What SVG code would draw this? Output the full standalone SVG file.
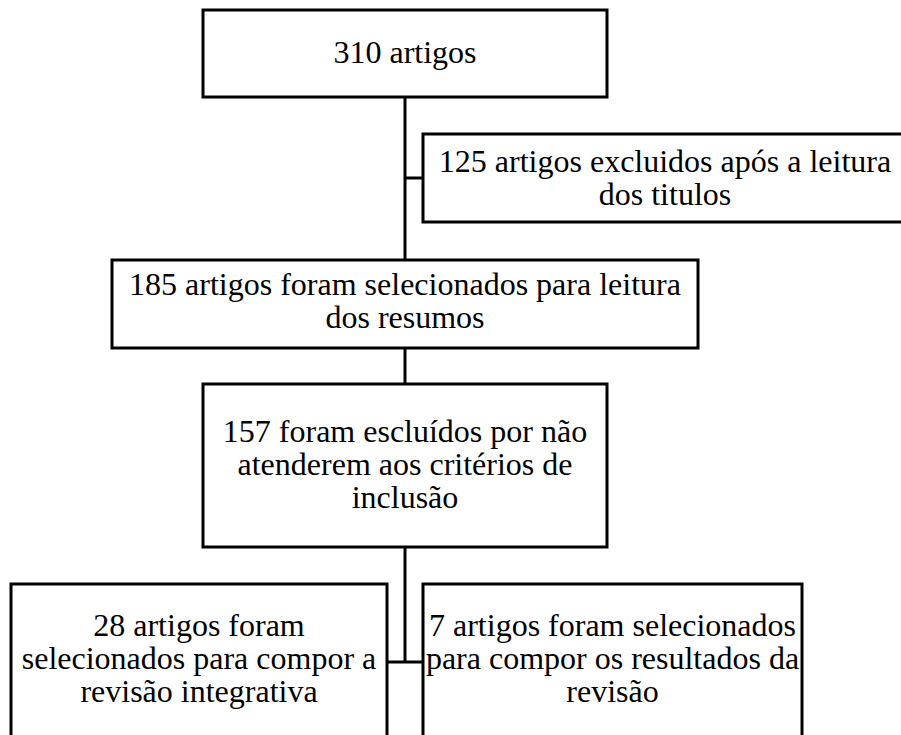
<svg xmlns="http://www.w3.org/2000/svg" width="901" height="735" viewBox="0 0 901 735">
<style>
.box{fill:#fff;stroke:#000;stroke-width:3}
.conn{fill:none;stroke:#000;stroke-width:3}
.t{font-family:'Liberation Serif',serif;font-size:32px;fill:#000;text-anchor:middle}
</style>
<rect width="901" height="735" fill="#fff"/>
<g id="connectors">
<line class="conn" x1="405" y1="97" x2="405" y2="260"/>
<line class="conn" x1="405" y1="178" x2="423" y2="178"/>
<line class="conn" x1="405" y1="348" x2="405" y2="384"/>
<line class="conn" x1="405" y1="547" x2="405" y2="662"/>
<line class="conn" x1="387" y1="662" x2="423" y2="662"/>
</g>
<g id="n1">
<rect class="box" x="203" y="10" width="404" height="87"/>
<text class="t" x="405" y="63">310 artigos</text>
</g>
<g id="n2">
<rect class="box" x="423" y="134" width="484" height="88"/>
<text class="t" x="665" y="172">125 artigos excluidos após a leitura</text>
<text class="t" x="665" y="205">dos titulos</text>
</g>
<g id="n3">
<rect class="box" x="112" y="260" width="586" height="88"/>
<text class="t" x="405" y="295">185 artigos foram selecionados para leitura</text>
<text class="t" x="405" y="328">dos resumos</text>
</g>
<g id="n4">
<rect class="box" x="203" y="384" width="404" height="163"/>
<text class="t" x="405" y="442">157 foram escluídos por não</text>
<text class="t" x="405" y="475">atenderem aos critérios de</text>
<text class="t" x="405" y="508">inclusão</text>
</g>
<g id="n5">
<rect class="box" x="11" y="584" width="376" height="170"/>
<text class="t" x="199" y="636">28 artigos foram</text>
<text class="t" x="199" y="669">selecionados para compor a</text>
<text class="t" x="199" y="702">revisão integrativa</text>
</g>
<g id="n6">
<rect class="box" x="423" y="584" width="379" height="170"/>
<text class="t" x="612.5" y="636">7 artigos foram selecionados</text>
<text class="t" x="612.5" y="669">para compor os resultados da</text>
<text class="t" x="612.5" y="702">revisão</text>
</g>
</svg>
